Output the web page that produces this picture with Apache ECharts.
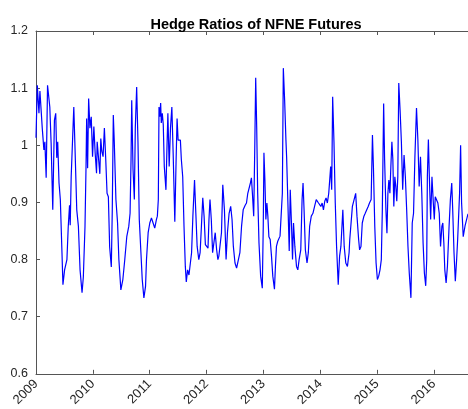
<!DOCTYPE html>
<html>
<head>
<meta charset="utf-8">
<script src="https://cdn.jsdelivr.net/npm/echarts@6/dist/echarts.min.js"></script>
<style>
html,body{margin:0;padding:0;background:#fff;}
#chart{width:468px;height:409px;}
</style>
</head>
<body>
<div id="chart"></div>
<script>
const titleText = 'Hedge Ratios of NFNE Futures';
const yearLabels = ['2009','2010','2011','2012','2013','2014','2015','2016'];
const yTickValues = [0.6, 0.7, 0.8, 0.9, 1.0, 1.1, 1.2];

const dates = [
2009.000,2009.023,2009.052,2009.069,2009.110,2009.139,2009.156,2009.179,2009.203,2009.243,
2009.266,2009.295,2009.324,2009.347,2009.365,2009.382,2009.405,2009.428,2009.457,2009.474,
2009.503,2009.526,2009.544,2009.567,2009.590,2009.602,2009.619,2009.642,2009.665,2009.683,
2009.717,2009.746,2009.775,2009.810,2009.833,2009.862,2009.880,2009.891,2009.908,2009.926,
2009.949,2009.972,2009.995,2010.018,2010.041,2010.065,2010.076,2010.105,2010.123,2010.140,
2010.157,2010.180,2010.203,2010.227,2010.250,2010.273,2010.296,2010.325,2010.342,2010.360,
2010.377,2010.406,2010.435,2010.458,2010.493,2010.528,2010.562,2010.597,2010.632,2010.655,
2010.672,2010.684,2010.707,2010.730,2010.747,2010.771,2010.794,2010.817,2010.846,2010.869,
2010.898,2010.927,2010.944,2010.973,2011.002,2011.031,2011.060,2011.089,2011.118,2011.135,
2011.152,2011.164,2011.178,2011.193,2011.204,2011.222,2011.239,2011.257,2011.286,2011.303,
2011.320,2011.343,2011.366,2011.390,2011.413,2011.442,2011.465,2011.482,2011.500,2011.523,
2011.540,2011.557,2011.581,2011.604,2011.627,2011.644,2011.667,2011.691,2011.714,2011.737,
2011.760,2011.789,2011.812,2011.835,2011.864,2011.887,2011.910,2011.934,2011.957,2011.980,
2012.003,2012.026,2012.043,2012.061,2012.084,2012.107,2012.130,2012.153,2012.177,2012.200,
2012.217,2012.240,2012.263,2012.286,2012.315,2012.344,2012.368,2012.397,2012.425,2012.449,
2012.472,2012.501,2012.529,2012.558,2012.587,2012.616,2012.645,2012.680,2012.703,2012.726,
2012.749,2012.772,2012.790,2012.807,2012.830,2012.848,2012.865,2012.883,2012.900,2012.923,
2012.952,2012.981,2012.998,2013.010,2013.027,2013.044,2013.062,2013.079,2013.097,2013.120,
2013.143,2013.166,2013.195,2013.212,2013.230,2013.253,2013.270,2013.293,2013.316,2013.334,
2013.351,2013.374,2013.397,2013.409,2013.455,2013.473,2013.496,2013.513,2013.530,2013.554,
2013.583,2013.606,2013.629,2013.658,2013.681,2013.698,2013.716,2013.739,2013.768,2013.791,
2013.814,2013.843,2013.872,2013.901,2013.930,2013.953,2013.970,2013.988,2014.011,2014.034,
2014.057,2014.080,2014.103,2014.126,2014.150,2014.167,2014.184,2014.202,2014.219,2014.242,
2014.265,2014.288,2014.317,2014.341,2014.364,2014.398,2014.422,2014.450,2014.479,2014.508,
2014.520,2014.566,2014.589,2014.624,2014.647,2014.676,2014.693,2014.717,2014.740,2014.769,
2014.792,2014.821,2014.844,2014.867,2014.896,2014.919,2014.936,2014.960,2014.983,2015.006,
2015.029,2015.052,2015.075,2015.093,2015.116,2015.133,2015.156,2015.174,2015.191,2015.208,
2015.226,2015.243,2015.261,2015.278,2015.295,2015.313,2015.330,2015.347,2015.365,2015.382,
2015.405,2015.428,2015.451,2015.475,2015.498,2015.521,2015.544,2015.567,2015.596,2015.619,
2015.642,2015.666,2015.694,2015.718,2015.741,2015.764,2015.787,2015.810,2015.833,2015.856,
2015.874,2015.885,2015.903,2015.920,2015.943,2015.966,2015.990,2016.007,2016.024,2016.047,
2016.070,2016.094,2016.117,2016.140,2016.157,2016.175,2016.192,2016.215,2016.238,2016.267,
2016.290,2016.314,2016.331,2016.354,2016.377,2016.400,2016.418,2016.435,2016.452,2016.470,
2016.487,2016.516,2016.550,2016.600
];

const hedgeRatios = [
1.013,1.105,1.056,1.095,1.030,0.992,1.006,0.943,1.105,1.067,
1.004,0.887,1.044,1.056,0.978,1.006,0.934,0.905,0.812,0.756,
0.782,0.780,0.800,0.857,0.895,0.860,0.945,1.006,1.067,1.006,
0.887,0.858,0.782,0.742,0.770,0.858,0.962,1.047,0.960,1.082,
1.030,1.050,0.980,1.033,0.986,0.951,1.006,1.009,0.950,1.012,
0.990,0.980,1.030,0.975,0.916,0.910,0.822,0.787,0.887,1.053,
1.006,0.905,0.864,0.800,0.747,0.765,0.800,0.840,0.858,0.881,
0.975,1.079,0.958,0.905,1.030,1.102,1.006,0.870,0.812,0.765,
0.733,0.753,0.800,0.847,0.864,0.873,0.864,0.855,0.870,0.876,
0.905,1.067,1.050,1.074,1.039,1.056,1.036,0.963,0.922,0.992,
1.056,0.963,1.030,1.067,0.986,0.866,0.975,1.047,1.009,1.012,
1.009,0.975,0.945,0.858,0.788,0.761,0.782,0.773,0.776,0.812,
0.876,0.939,0.881,0.823,0.800,0.812,0.858,0.908,0.876,0.826,
0.823,0.820,0.870,0.905,0.870,0.812,0.810,0.847,0.818,0.800,
0.806,0.803,0.847,0.931,0.887,0.800,0.847,0.881,0.893,0.870,
0.823,0.794,0.785,0.788,0.812,0.858,0.887,0.895,0.899,0.916,
0.919,0.934,0.943,0.916,0.876,0.990,1.118,1.030,0.916,0.829,
0.771,0.750,0.858,0.987,0.939,0.870,0.899,0.876,0.840,0.835,
0.806,0.771,0.748,0.788,0.823,0.832,0.829,0.841,0.838,0.916,
1.135,1.079,1.009,0.980,0.815,0.922,0.858,0.800,0.864,0.823,
0.788,0.782,0.800,0.817,0.905,0.934,0.887,0.817,0.794,0.812,
0.858,0.876,0.881,0.893,0.905,0.902,0.899,0.899,0.893,0.899,
0.887,0.902,0.908,0.899,0.916,0.939,0.963,0.922,1.085,1.006,
0.899,0.823,0.756,0.806,0.823,0.887,0.823,0.794,0.788,0.812,
0.835,0.893,0.893,0.916,0.876,0.835,0.817,0.823,0.864,0.876,
0.881,0.881,0.893,0.899,0.905,1.018,0.963,0.858,0.794,0.765,
0.771,0.782,0.800,0.887,1.073,0.975,0.887,0.846,0.916,0.939,
0.916,0.963,1.006,0.975,0.893,0.945,0.928,0.902,0.945,1.109,
1.062,1.006,0.922,0.983,0.945,0.887,0.823,0.776,0.733,0.864,
0.881,0.980,1.065,1.010,0.928,0.980,0.916,0.829,0.776,0.754,
0.800,0.945,1.010,0.945,0.870,0.945,0.899,0.870,0.910,0.910,
0.899,0.881,0.823,0.858,0.864,0.829,0.782,0.759,0.788,0.858,
0.905,0.934,0.887,0.812,0.762,0.800,0.835,0.835,0.916,1.000,
0.900,0.840,0.860,0.880
];

const xMin = 2009, xMax = 2016.6, yMin = 0.6, yMax = 1.2;
const seriesData = dates.map((d, i) => [d, hedgeRatios[i]]);

const chart = echarts.init(document.getElementById('chart'), null, {renderer: 'canvas'});
const axisColor = '#555555';
const labelColor = '#262626';
const font = '"Liberation Sans", Arial, sans-serif';

function yearFmt(v) {
  const idx = Math.round(v) - xMin;
  if (Math.abs(v - Math.round(v)) > 1e-6) return '';
  return yearLabels[idx] !== undefined ? yearLabels[idx] : '';
}

chart.setOption({
  animation: false,
  backgroundColor: '#ffffff',
  title: {
    text: titleText,
    left: 251,
    top: 12,
    textAlign: 'center',
    textStyle: {fontFamily: font, fontSize: 14.5, fontWeight: 'bold', color: '#000'}
  },
  grid: {left: 36, top: 31, width: 438, height: 343, containLabel: false},
  xAxis: [{
    type: 'value', position: 'bottom', min: xMin, max: xMax, interval: 1,
    axisLine: {show: true, onZero: false, lineStyle: {color: axisColor, width: 1}},
    axisTick: {show: true, inside: true, length: 4, lineStyle: {color: axisColor}},
    splitLine: {show: false},
    axisLabel: {rotate: 45, margin: 8, color: labelColor, fontFamily: font, fontSize: 13,
      formatter: yearFmt, showMaxLabel: false}
  }, {
    type: 'value', position: 'top', min: xMin, max: xMax, interval: 1,
    axisLine: {show: true, onZero: false, lineStyle: {color: axisColor, width: 1}},
    axisTick: {show: true, inside: true, length: 4, lineStyle: {color: axisColor}},
    splitLine: {show: false},
    axisLabel: {show: false}
  }],
  yAxis: {
    type: 'value', min: yMin, max: yMax, interval: 0.1,
    axisLine: {show: true, onZero: false, lineStyle: {color: axisColor, width: 1}},
    axisTick: {show: true, inside: true, length: 4, lineStyle: {color: axisColor}},
    splitLine: {show: false},
    axisLabel: {margin: 8, color: labelColor, fontFamily: font, fontSize: 12.5,
      formatter: v => {
        const t = yTickValues.find(y => Math.abs(y - v) < 1e-6);
        return t === undefined ? '' : String(Math.round(t * 10) / 10);
      }}
  },
  series: [{
    type: 'line',
    xAxisIndex: 0,
    data: seriesData,
    showSymbol: false,
    symbol: 'none',
    lineStyle: {color: '#0000ff', width: 1.2},
    clip: true
  }]
});
</script>
</body>
</html>
